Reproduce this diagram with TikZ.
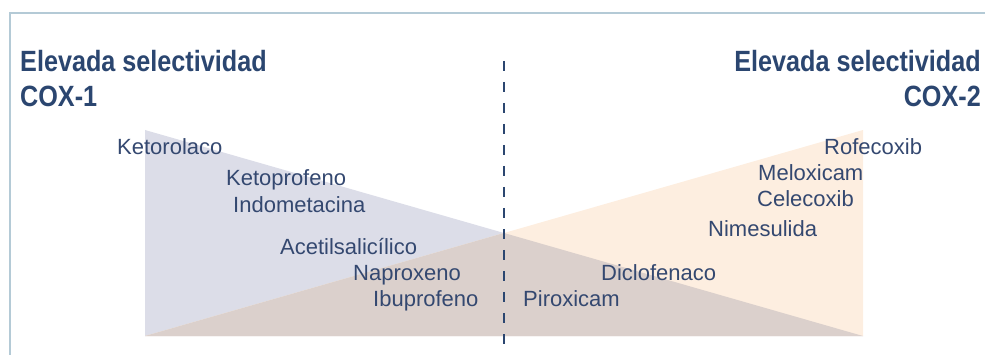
\documentclass[tikz,border=0pt]{standalone}
\usepackage{fontspec}
\setmainfont{Liberation Sans}
\newfontfamily\titlefont[FakeStretch=0.86]{Liberation Sans}
\usetikzlibrary{positioning}
\definecolor{navy}{RGB}{52,72,112}
\definecolor{titlenavy}{RGB}{43,70,112}
\definecolor{framecol}{RGB}{180,202,214}
\definecolor{coxone}{RGB}{220,221,232}
\definecolor{coxtwo}{RGB}{253,238,224}
\definecolor{both}{RGB}{219,208,204}

\begin{document}
\begin{tikzpicture}[x=1pt, y=-1pt,
    drug/.style={anchor=base west, inner sep=0pt, text=navy, font=\fontsize{22}{24}\selectfont},
    heading/.style={inner sep=0pt, text=titlenavy, align=#1, font=\titlefont\bfseries\fontsize{29.3}{35}\selectfont},
    divider/.style={titlenavy, line width=2pt, dash pattern=on 10pt off 11pt}]
                      \useasboundingbox (0,0) rectangle (985,355);
                      \coordinate (corner) at (10,13);
                      \draw[framecol, line width=2pt] (corner |- 0,358) -- (corner) -- (corner -| 988,0);

                      \fill[coxone] (145,130) -- (145,336) -- (863,336) -- cycle;
                      \fill[coxtwo] (863,130) -- (863,336) -- (145,336) -- cycle;
                      \fill[both] (145,336) -- (504,233) -- (863,336) -- cycle;

                      \coordinate (top) at (504,61);
                      \coordinate (bottom) at (504,358);
                      \draw[divider] (top) -- (bottom);

                      \node[heading=left, anchor=base west] (h1) at (20,107) {Elevada selectividad\\COX-1};
                      \node[heading=right, anchor=base east] (h2) at (981,107) {Elevada selectividad\\COX-2};

                      \node[drug] (ketorolaco) at (117,155) {Ketorolaco};
                      \node[drug] (ketoprofeno) at (226,186) {Ketoprofeno};
                      \node[drug] (indometacina) at (233,213) {Indometacina};
                      \node[drug] (acetil) at (280,255) {Acetilsalicílico};
                      \node[drug] (naproxeno) at (353,280) {Naproxeno};
                      \node[drug] (ibuprofeno) at (373,307) {Ibuprofeno};

                      \node[drug] (rofecoxib) at (824,155) {Rofecoxib};
                      \node[drug] (meloxicam) at (758,181) {Meloxicam};
                      \node[drug] (celecoxib) at (757,207) {Celecoxib};
                      \node[drug] (nimesulida) at (708,237) {Nimesulida};
                      \node[drug] (diclofenaco) at (601,280) {Diclofenaco};
                      \node[drug] (piroxicam) at (523,307) {Piroxicam};
                    \end{tikzpicture}
\end{document}
